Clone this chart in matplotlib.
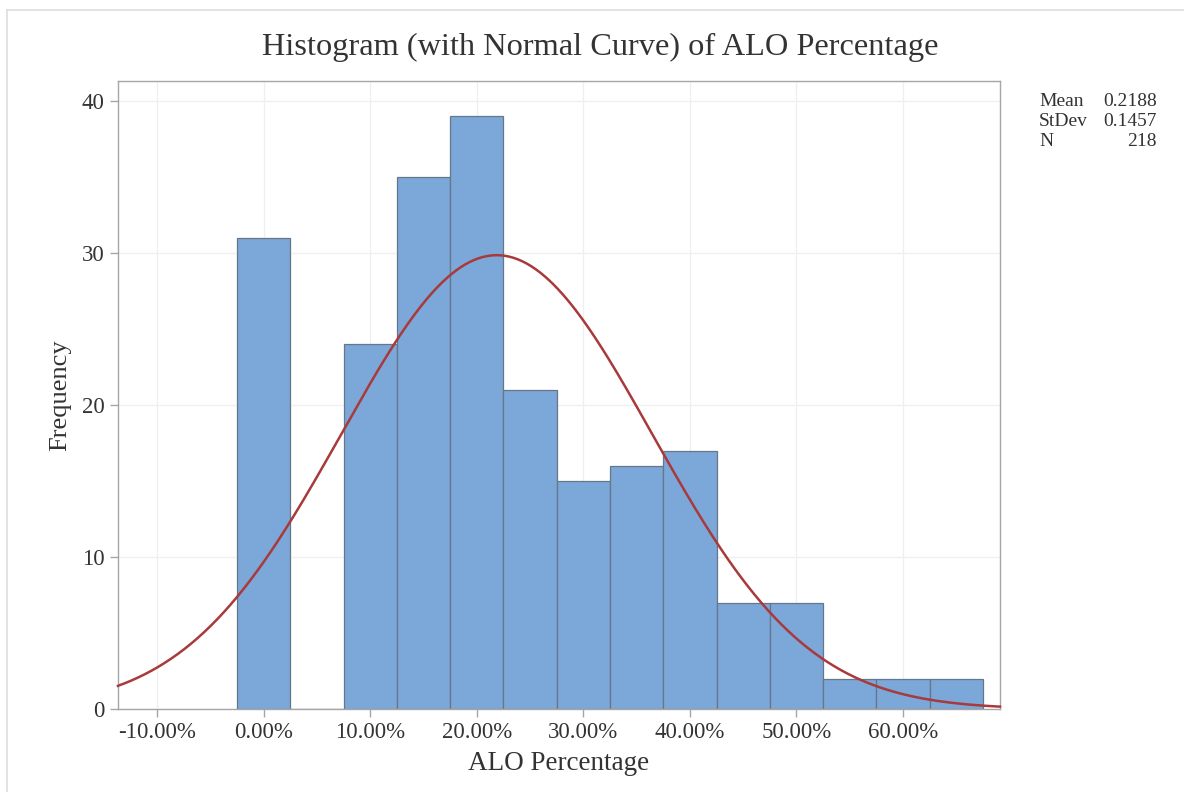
import numpy as np
import matplotlib.pyplot as plt
from matplotlib.ticker import PercentFormatter
from matplotlib.lines import Line2D

plt.rcParams['font.family'] = ['Liberation Serif', 'DejaVu Serif']
plt.rcParams['axes.unicode_minus'] = False

# bin midpoints (fraction) and counts
bin_mids = [0.00, 0.05, 0.10, 0.15, 0.20, 0.25, 0.30, 0.35, 0.40, 0.45, 0.50, 0.55, 0.60, 0.65]
counts = [31, 0, 24, 35, 39, 21, 15, 16, 17, 7, 7, 2, 2, 2]
bin_width = 0.05

mean = 0.2188
stdev = 0.1457
n = 218

xticks = [-0.10, 0.0, 0.10, 0.20, 0.30, 0.40, 0.50, 0.60]
yticks = [0, 10, 20, 30, 40]

text_col = '#333333'
spine_col = '#a6a6a6'

fig = plt.figure(figsize=(11.84, 7.92), dpi=100)
ax = fig.add_axes([118 / 1184, 83 / 792, 882 / 1184, 628 / 792])

ax.bar(bin_mids, counts, width=bin_width, color='#7ba7d9',
       edgecolor='#66778a', linewidth=0.9, zorder=2)

# fitted normal curve scaled to the histogram
xs = np.linspace(-0.1366, 0.691, 400)
ys = n * bin_width / (stdev * np.sqrt(2 * np.pi)) * np.exp(-0.5 * ((xs - mean) / stdev) ** 2)
ax.plot(xs, ys, color='#a83a3c', linewidth=1.8, zorder=3, clip_on=False)

ax.set_xlim(-0.1366, 0.691)
ax.set_ylim(0, 41.3)
ax.set_xticks(xticks)
ax.set_yticks(yticks)
ax.xaxis.set_major_formatter(PercentFormatter(xmax=1, decimals=2))
ax.grid(True, color='#efefef', linewidth=0.9, zorder=0)
ax.set_axisbelow(True)

for s in ax.spines.values():
    s.set_color(spine_col)
    s.set_linewidth(1.0)
ax.tick_params(axis='both', colors=spine_col, labelcolor=text_col,
               length=6, width=1.0, labelsize=16.5)
ax.tick_params(axis='x', pad=3)

ax.set_xlabel('ALO Percentage', fontsize=19.5, color=text_col, labelpad=6)
ax.set_ylabel('Frequency', fontsize=19, color=text_col, labelpad=8)
fig.text(600 / 1184, 1 - 47 / 792, 'Histogram (with Normal Curve) of ALO Percentage',
         ha='center', va='center', fontsize=23.3, color=text_col)

# summary statistics box
stats = [('Mean', f'{mean:.4f}'), ('StDev', f'{stdev:.4f}'), ('N', f'{n}')]
for i, (name, val) in enumerate(stats):
    y = 1 - (101 + i * 20) / 792
    fig.text(1039 / 1184, y, name, ha='left', va='center', fontsize=14, color=text_col)
    fig.text(1157 / 1184, y, val, ha='right', va='center', fontsize=14, color=text_col)

# outer frame
fig.add_artist(Line2D([7 / 1184, 1183 / 1184], [1 - 10 / 792, 1 - 10 / 792],
                      color='#dddddd', linewidth=1.2, transform=fig.transFigure))
fig.add_artist(Line2D([7 / 1184, 7 / 1184], [0, 1 - 10 / 792],
                      color='#dddddd', linewidth=1.2, transform=fig.transFigure))

fig.savefig('out.png', dpi=100)
